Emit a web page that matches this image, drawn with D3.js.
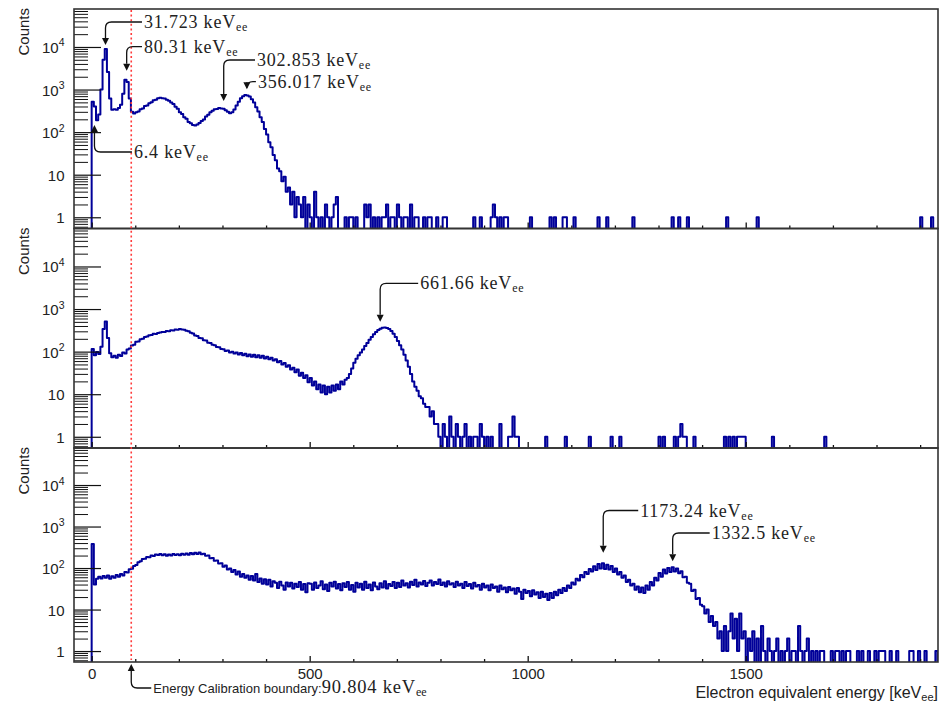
<!DOCTYPE html>
<html><head><meta charset="utf-8">
<script src="https://cdn.jsdelivr.net/npm/d3@7"></script>
<style>body{margin:0;background:#fff}svg{display:block}</style>
</head><body>
<svg id="c" width="950" height="703"></svg>
<script>
// ---------------- DATA ----------------
const binWidth = 5; // keV per bin; arrays start at 0 keV
const ba133Counts = [
 520,400,190,260,1000,5000,9000,2600,620,335,
 345,335,370,440,800,1700,1500,620,300,275,
 295,305,345,360,410,425,480,505,560,580,
 625,645,625,615,575,545,495,455,395,355,
 295,265,225,205,172,162,148,143,152,163,
 182,198,232,255,292,318,345,350,368,358,
 352,325,302,278,292,338,425,515,625,695,
 745,725,685,595,495,385,305,225,172,118,
 88,58,44,29,22,14,12,7,9,4,
 5,2,4,1,3,2,
 1,3,0,2,1,0,4,1,0,1,
 0,2,1,0,1,2,3,0,0,0,
 1,0,1,1,0,1,0,0,0,2,
 1,2,0,1,0,1,0,1,1,2,
 0,1,1,0,2,1,0,1,1,0,
 2,0,1,1,0,0,1,0,1,1,
 0,0,1,0,0,1,1];
const ba133Sparse = [[875,1],[894,1],[917,1],[921,2],[925,1],[936,1],[945,1],[953,1],[1005,1],[1051,1],[1063,1],[1081,1],[1089,1],[1108,1],[1162,1],[1181,1],[1242,1],[1334,1],[1348,1],[1365,1],[1456,1],[1529,1],[1904,1],[1929,1]];

const cs137Counts = [
 115,82,98,88,130,340,510,210,92,74,
 80,72,84,79,95,90,112,118,140,146,
 170,172,196,200,222,226,242,245,262,258,
 275,280,290,288,305,302,318,315,332,328,
 340,330,328,310,300,278,265,240,234,210,
 205,185,182,162,160,145,142,128,127,115,
 114,104,106,96,99,90,95,86,93,82,
 89,78,86,76,84,74,82,72,80,69,
 76,66,72,62,66,56,60,50,54,44,
 48,38,42,33,38,27,32,24,28,19,
 24,16,20,13,17,11,16,10,15,11,
 16,12,17,13,20,17,22,24,30,40,
 55,68,82,96,112,135,160,190,220,255,
 290,320,345,362,368,360,340,305,262,220,
 178,142,112,85,62,44,30,20,15,12,
 9,8,6,5,5,3,4,2,2,
 1,0,2,1,0,3,1,0,2,1,
 0,1,2,0,1,0,1,1,0,2,
 1,0,1,0,1];
const cs137Sparse = [[936,2],[955,1],[960,1],[965,3],[970,1],[977,1],[1040,1],[1089,1],[1143,1],[1193,1],[1211,1],[1300,1],[1310,1],[1338,1],[1345,1],[1350,2],[1355,1],[1361,1],[1380,1],[1453,1],[1460,1],[1473,1],[1480,1],[1485,1],[1491,1],[1498,1],[1563,1],[1683,1]];

const co60Counts = [
 380,40,55,62,56,64,58,66,55,63,
 58,68,62,72,66,80,78,94,96,112,
 118,138,145,165,168,185,182,200,195,212,
 205,218,202,215,198,212,200,218,205,215,
 202,222,208,225,210,230,214,235,218,238,
 215,222,198,200,172,175,150,152,128,130,
 108,115,92,98,80,90,70,82,62,72,
 58,66,52,64,50,72,46,56,42,54,
 40,52,36,48,44,33,47,38,30,45,
 36,44,32,42,35,46,30,41,26,43,
 42,30,45,33,38,48,31,40,28,44,
 36,47,32,41,29,43,35,46,30,39,
 27,44,34,42,30,47,33,40,29,45,
 36,31,43,34,48,32,41,37,46,33,
 44,35,50,38,43,34,47,39,52,36,
 45,40,49,37,44,50,38,46,41,53,
 39,45,36,48,40,43,35,47,38,42,
 33,46,37,41,32,44,36,39,30,42,
 34,38,29,40,33,36,27,38,31,34,
 26,35,29,32,24,33,27,18,30,25,
 28,21,29,23,26,19,27,20,24,17,
 25,19,27,22,30,25,33,28,38,33,
 45,40,55,50,68,60,80,72,95,82,
 110,90,125,98,130,95,120,92,112,80,
 98,70,80,58,66,46,52,38,42,30,
 36,26,34,25,38,30,46,38,58,50,
 76,62,92,74,100,80,105,82,98,75,
 84,60,62,44,42,28,30,18,19,13,
 12,8,10,5,7,4,5,2,3,1,
 4,1,3,8,2,6,1,8,2,3,
 0,2,1,3,0,2,0,4,1,0,
 2,1,0,1,2,0,1,0,1,2,
 0,1,1,0,4,1,0,1,2,0,
 1,0,1,0,1,1];
const co60Sparse = [[1697,1],[1705,1],[1713,1],[1720,1],[1730,1],[1739,1],[1758,1],[1766,1],[1781,1],[1797,1],[1808,1],[1814,1],[1819,1],[1831,1],[1846,1],[1877,1],[1884,1],[1899,1],[1911,1],[1938,1]];

const yTickValues = [1, 10, 100, 1000, 10000];
const yTickBase = ["1", "10", "10", "10", "10"];
const yTickSup = ["", "", "2", "3", "4"];
const xTickValues = [0, 500, 1000, 1500];
const xTickLabels = ["0", "500", "1000", "1500"];

const ba133Peaks = [31.723, 80.31, 302.853, 356.017, 6.4];
const ba133PeakLabels = ["31.723", "80.31", "302.853", "356.017", "6.4"];
const cs137Peaks = [661.66];
const cs137PeakLabels = ["661.66"];
const co60Peaks = [1173.24, 1332.5];
const co60PeakLabels = ["1173.24", "1332.5"];
const calibrationBoundary = 90.804;
const calibrationLabel = "90.804";

// ---------------- LAYOUT ----------------
const xDomain = [-40.5, 1941];
const yDomain = [0.545, 78000];
const frameL = 74, frameR = 938;
const SANS = "'Liberation Sans', Arial, Helvetica, sans-serif";
const SERIF = "'Liberation Serif', 'Times New Roman', serif";
const HIST = "#000099";

const annLayout = [
  [{dx:38.5, ty:13, tip:36, up:false},{dx:17.3, ty:37.7, tip:61.7, up:false},{dx:33.3, ty:51, tip:92, up:false},{dx:11, ty:72.7, tip:80.3, up:false},{dx:39.5, ty:143, tip:116, up:true}],
  [{dx:40, ty:54.8, tip:93.2, up:false}],
  [{dx:37, ty:62.5, tip:104.8, up:false},{dx:39, ty:85, tip:113.2, up:false}]
];

const panels = [
  {top:9, bottom:228.5, counts:ba133Counts, sparse:ba133Sparse, peaks:ba133Peaks, labels:ba133PeakLabels},
  {top:228.5, bottom:448, counts:cs137Counts, sparse:cs137Sparse, peaks:cs137Peaks, labels:cs137PeakLabels},
  {top:448, bottom:662, counts:co60Counts, sparse:co60Sparse, peaks:co60Peaks, labels:co60PeakLabels}
];

const svg = d3.select("#c");
const x = d3.scaleLinear().domain(xDomain).range([frameL, frameR]);
const defs = svg.append("defs");

function binsFor(counts, sparse) {
  const m = new Map();
  counts.forEach((c, i) => m.set(i, c));
  sparse.forEach(([e, c]) => m.set(Math.floor(e / binWidth), c));
  const first = Math.floor(xDomain[0] / binWidth), last = Math.ceil(xDomain[1] / binWidth);
  const pts = [];
  for (let i = first; i <= last; i++) pts.push({e: i * binWidth, c: m.get(i) || 0});
  pts.push({e: (last + 1) * binWidth, c: m.get(last) || 0});
  return pts;
}

panels.forEach((p, pi) => {
  const y = d3.scaleLog().domain(yDomain).range([p.bottom, p.top]);
  const g = svg.append("g");
  const cid = "clip" + pi;
  defs.append("clipPath").attr("id", cid).append("rect")
    .attr("x", frameL).attr("y", p.top).attr("width", frameR - frameL).attr("height", p.bottom - p.top);

  const pts = binsFor(p.counts, p.sparse);
  const line = d3.line()
    .x(d => x(d.e))
    .y(d => d.c > 0 ? y(d.c) : p.bottom + 4)
    .curve(d3.curveStepAfter);
  g.append("path").attr("d", line(pts)).attr("clip-path", `url(#${cid})`)
    .attr("fill", "none").attr("stroke", HIST).attr("stroke-width", 2).attr("stroke-linejoin", "round");

  const minors = [];
  for (let k = -1; k <= 4; k++) for (let m = 2; m <= 9; m++) {
    const v = m * Math.pow(10, k);
    if (v >= yDomain[0] && v <= yDomain[1]) minors.push(v);
  }
  g.append("g").attr("transform", `translate(${frameL},0)`)
    .call(d3.axisRight(y).tickValues(minors).tickSize(14).tickFormat(""))
    .call(a => a.select(".domain").remove())
    .call(a => a.selectAll("line").attr("stroke", "#111").attr("stroke-width", 1));
  g.append("g").attr("transform", `translate(${frameL},0)`)
    .call(d3.axisRight(y).tickValues(yTickValues).tickSize(27).tickFormat(""))
    .call(a => a.select(".domain").remove())
    .call(a => a.selectAll("line").attr("stroke", "#111").attr("stroke-width", 1.2));
  yTickValues.forEach((v, i) => {
    const t = g.append("text").attr("x", 64.5).attr("y", y(v) + 6).attr("text-anchor", "end")
      .attr("font-family", SANS).attr("font-size", 15).attr("fill", "#222");
    t.append("tspan").text(yTickBase[i]);
    if (yTickSup[i]) t.append("tspan").attr("font-size", 10.5).attr("dy", -6.5).text(yTickSup[i]);
  });
  g.append("text").attr("transform", `translate(29,${p.top - 1}) rotate(-90)`).attr("text-anchor", "end")
    .attr("font-family", SANS).attr("font-size", 15).attr("fill", "#222").text("Counts");

  const xMinor = d3.range(0, 2000, 100).filter(v => v <= xDomain[1] && !xTickValues.includes(v));
  g.append("g").attr("transform", `translate(0,${p.bottom})`)
    .call(d3.axisTop(x).tickValues(xMinor).tickSize(3).tickFormat(""))
    .call(a => a.select(".domain").remove())
    .call(a => a.selectAll("line").attr("stroke", "#111").attr("stroke-width", 1.3));
  g.append("g").attr("transform", `translate(0,${p.bottom})`)
    .call(d3.axisTop(x).tickValues(xTickValues).tickSize(6).tickFormat(""))
    .call(a => a.select(".domain").remove())
    .call(a => a.selectAll("line").attr("stroke", "#111").attr("stroke-width", 1.3));

  if (pi === panels.length - 1) {
    g.append("g").attr("transform", `translate(0,${p.bottom})`)
      .call(d3.axisBottom(x).tickValues(xTickValues).tickSize(0).tickPadding(6).tickFormat((d, i) => xTickLabels[i]))
      .call(a => a.select(".domain").remove())
      .call(a => a.selectAll("text").attr("font-family", SANS).attr("font-size", 15).attr("fill", "#222"));
  }

  g.append("rect").attr("x", frameL).attr("y", p.top).attr("width", frameR - frameL).attr("height", p.bottom - p.top)
    .attr("fill", "none").attr("stroke", "#333").attr("stroke-width", 1.6);
});

svg.append("line")
  .attr("x1", x(calibrationBoundary)).attr("x2", x(calibrationBoundary))
  .attr("y1", panels[0].top + 1).attr("y2", panels[2].bottom - 2)
  .attr("stroke", "#ff3b3b").attr("stroke-width", 1.6).attr("stroke-dasharray", "2,2.6");

function arrow(ax, textX, textY, tipY, up) {
  const c = 6, head = 7;
  const s = up ? -1 : 1;
  const path = d3.path();
  path.moveTo(textX - 2, textY);
  path.lineTo(ax + c, textY);
  path.quadraticCurveTo(ax, textY, ax, textY + s * c);
  path.lineTo(ax, tipY - s * head);
  svg.append("path").attr("d", path.toString()).attr("fill", "none").attr("stroke", "#111").attr("stroke-width", 1.3);
  svg.append("path").attr("d", `M${ax - 3.5},${tipY - s * head}L${ax + 3.5},${tipY - s * head}L${ax},${tipY}Z`).attr("fill", "#111");
}

panels.forEach((p, pi) => {
  p.peaks.forEach((e, i) => {
    const L = annLayout[pi][i];
    const ax = x(e);
    const tx = ax + L.dx, ty = p.top + L.ty, tip = p.top + L.tip;
    arrow(ax, tx, ty, tip, L.up);
    const t = svg.append("text").attr("x", tx).attr("y", ty + 6).attr("font-family", SERIF)
      .attr("font-size", 18).attr("letter-spacing", 0.8).attr("fill", "#222");
    t.append("tspan").text(p.labels[i] + " keV");
    t.append("tspan").attr("font-size", 12).attr("dy", 3).text("ee");
  });
});

{
  const ax = x(calibrationBoundary);
  const tx = ax + 22, ty = 688;
  arrow(ax, tx, ty, panels[2].bottom + 2, true);
  const t = svg.append("text").attr("x", tx).attr("y", ty + 5).attr("fill", "#222");
  t.append("tspan").attr("font-family", SANS).attr("font-size", 13).text("Energy Calibration boundary:");
  t.append("tspan").attr("font-family", SERIF).attr("font-size", 18.5).attr("letter-spacing", 0.8).text(calibrationLabel + " keV");
  t.append("tspan").attr("font-family", SERIF).attr("font-size", 12).attr("dy", 3).text("ee");
}

{
  const t = svg.append("text").attr("x", frameR).attr("y", 698).attr("text-anchor", "end")
    .attr("font-family", SANS).attr("font-size", 16).attr("fill", "#222");
  t.append("tspan").text("Electron equivalent energy [keV");
  t.append("tspan").attr("font-size", 11).attr("dy", 3).text("ee");
  t.append("tspan").attr("dy", -3).text("]");
}
</script>
</body></html>
